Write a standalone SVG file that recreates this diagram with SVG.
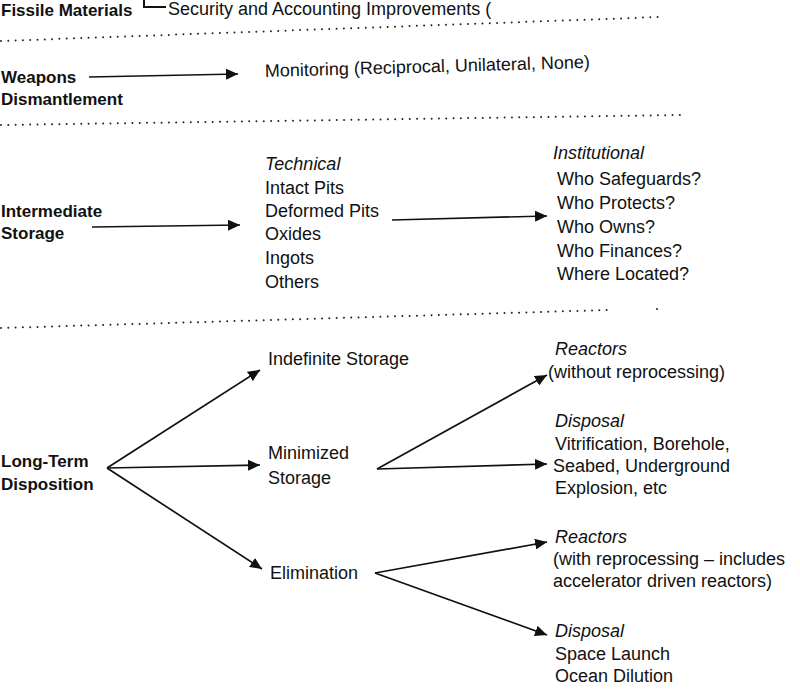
<svg xmlns="http://www.w3.org/2000/svg" width="800" height="691" viewBox="0 0 800 691">
<defs>
<marker id="ah" markerUnits="userSpaceOnUse" markerWidth="13" markerHeight="11" refX="12" refY="5.5" orient="auto">
<path d="M0,0 L12,5.5 L0,11 z" fill="#111"/>
</marker>
<style>
text{font-family:"Liberation Sans",Arial,Helvetica,sans-serif;fill:#111;font-size:18px}
.b{font-weight:bold;font-size:17px}
.i{font-style:italic}
.c{stroke:#111;stroke-width:1.7;fill:none;marker-end:url(#ah)}
.d{stroke:#222;stroke-width:2;stroke-linecap:round;stroke-dasharray:0 7.3;fill:none}
</style>
</defs>
<rect width="800" height="691" fill="#fff"/>

<g id="separators">
<line class="d" x1="1" y1="41" x2="660" y2="17"/>
<line class="d" x1="1" y1="125" x2="680" y2="115"/>
<line class="d" x1="1" y1="328" x2="608" y2="310"/>
<circle cx="657" cy="309" r="1" fill="#222"/>
</g>

<g id="fissile">
<text class="b" x="1" y="16">Fissile Materials</text>
</g>
<g id="security">
<path d="M144,0 V7 H166" stroke="#111" stroke-width="2" fill="none"/>
<text x="168" y="15">Security and Accounting Improvements (</text>
</g>

<g id="weapons">
<text class="b" x="1" y="83">Weapons</text>
<text class="b" x="1" y="105">Dismantlement</text>
</g>
<g id="monitoring">
<text x="265" y="77" transform="rotate(-1.6 265 77)">Monitoring (Reciprocal, Unilateral, None)</text>
</g>

<g id="intermediate">
<text class="b" x="1" y="217">Intermediate</text>
<text class="b" x="1" y="239">Storage</text>
</g>
<g id="technical">
<text class="i" x="265" y="170">Technical</text>
<text x="265" y="194">Intact Pits</text>
<text x="265" y="217">Deformed Pits</text>
<text x="265" y="240">Oxides</text>
<text x="265" y="264">Ingots</text>
<text x="265" y="288">Others</text>
</g>
<g id="institutional">
<text class="i" x="553" y="159">Institutional</text>
<text x="557" y="185">Who Safeguards?</text>
<text x="557" y="209">Who Protects?</text>
<text x="557" y="233">Who Owns?</text>
<text x="557" y="257">Who Finances?</text>
<text x="557" y="280">Where Located?</text>
</g>

<g id="longterm">
<text class="b" x="1" y="467">Long-Term</text>
<text class="b" x="1" y="490">Disposition</text>
</g>
<g id="indefinite">
<text x="268" y="365">Indefinite Storage</text>
</g>
<g id="minimized">
<text x="268" y="459">Minimized</text>
<text x="268" y="484">Storage</text>
</g>
<g id="elimination">
<text x="270" y="579">Elimination</text>
</g>
<g id="reactors1">
<text class="i" x="555" y="355">Reactors</text>
<text x="548" y="378">(without reprocessing)</text>
</g>
<g id="disposal1">
<text class="i" x="555" y="427">Disposal</text>
<text x="555" y="450">Vitrification, Borehole,</text>
<text x="553" y="472">Seabed, Underground</text>
<text x="555" y="494">Explosion, etc</text>
</g>
<g id="reactors2">
<text class="i" x="555" y="543">Reactors</text>
<text x="553" y="565">(with reprocessing – includes</text>
<text x="553" y="587">accelerator driven reactors)</text>
</g>
<g id="disposal2">
<text class="i" x="555" y="637">Disposal</text>
<text x="555" y="660">Space Launch</text>
<text x="555" y="682">Ocean Dilution</text>
</g>

<g id="connectors">
<line class="c" x1="89" y1="77" x2="238" y2="74"/>
<line class="c" x1="92" y1="227" x2="240" y2="225"/>
<line class="c" x1="392" y1="220" x2="547" y2="216"/>
<line class="c" x1="107" y1="468" x2="260" y2="370"/>
<line class="c" x1="107" y1="468" x2="260" y2="465"/>
<line class="c" x1="107" y1="468" x2="262" y2="569"/>
<line class="c" x1="377" y1="469" x2="547" y2="375"/>
<line class="c" x1="377" y1="469" x2="547" y2="464"/>
<line class="c" x1="375" y1="573" x2="547" y2="542"/>
<line class="c" x1="375" y1="573" x2="547" y2="635"/>
</g>
</svg>
